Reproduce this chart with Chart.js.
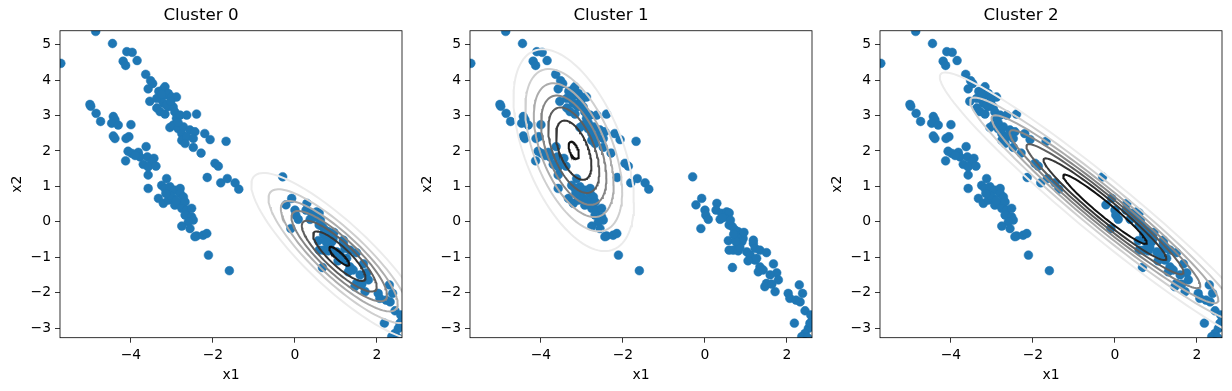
<!DOCTYPE html>
<html>
<head>
<meta charset="utf-8">
<script src="https://cdn.jsdelivr.net/npm/chart.js@4"></script>
<style>
  body { margin: 0; background: #fff; }
  .panel { position: absolute; top: 0; width: 410px; height: 391px; }
</style>
</head>
<body>
<div class="panel" style="left:0"><canvas id="c0" width="410" height="391"></canvas></div>
<div class="panel" style="left:410px"><canvas id="c1" width="410" height="391"></canvas></div>
<div class="panel" style="left:820px"><canvas id="c2" width="410" height="391"></canvas></div>
<script>
// scatter points (x1, x2), same in every panel
const upperBand = [
  [-5.71, 4.47], [-4.86, 5.37], [-4.45, 5.03], [-4.10, 4.80], [-3.97, 4.78], [-4.19, 4.53],
  [-4.13, 4.41], [-3.85, 4.55], [-3.64, 4.16], [-3.52, 3.98], [-3.47, 3.90], [-3.58, 3.75],
  [-3.32, 3.68], [-3.21, 3.74], [-3.15, 3.58], [-3.29, 3.49], [-3.17, 3.81], [-3.09, 3.62],
  [-3.01, 3.52], [-2.89, 3.52], [-3.54, 3.40], [-3.37, 3.21], [-3.29, 3.11], [-3.17, 3.04],
  [-3.09, 3.25], [-3.21, 3.35], [-2.97, 3.24], [-2.93, 3.10], [-3.05, 2.66], [-2.89, 2.92],
  [-2.80, 3.01], [-2.64, 3.01], [-2.40, 3.04], [-2.97, 2.73], [-2.85, 2.63], [-2.72, 2.68],
  [-2.56, 2.59], [-2.76, 2.49], [-2.76, 2.30], [-2.64, 2.40], [-2.44, 2.54], [-2.48, 2.35],
  [-2.20, 2.49], [-2.07, 2.32], [-2.68, 2.21], [-2.48, 2.10], [-2.29, 1.94], [-1.68, 2.27],
  [-1.95, 1.65], [-1.87, 1.57], [-2.14, 1.25], [-1.81, 1.10], [-1.65, 1.22], [-1.46, 1.10],
  [-1.37, 0.92], [-3.37, 3.48], [-3.13, 3.29], [-3.03, 3.40], [-2.85, 2.80], [-3.25, 3.60]
];
const lowerBand = [
  [-5.00, 3.31], [-4.98, 3.26], [-4.85, 3.06], [-4.74, 2.83], [-4.43, 2.97], [-4.39, 2.88],
  [-4.47, 2.78], [-4.31, 2.73], [-4.00, 2.74], [-4.43, 2.42], [-4.39, 2.35], [-4.12, 2.35],
  [-4.05, 2.40], [-3.63, 2.12], [-4.07, 1.99], [-3.98, 1.93], [-3.82, 1.96], [-3.78, 1.83],
  [-3.90, 1.87], [-4.13, 1.72], [-3.60, 1.83], [-3.44, 1.79], [-3.50, 1.69], [-3.70, 1.62],
  [-3.58, 1.55], [-3.39, 1.57], [-3.58, 1.32], [-3.58, 0.94], [-3.13, 1.22], [-3.25, 1.03],
  [-3.17, 0.94], [-3.05, 0.99], [-2.93, 0.89], [-2.80, 0.94], [-2.80, 0.80], [-3.33, 0.66],
  [-3.21, 0.52], [-3.09, 0.61], [-2.97, 0.66], [-2.93, 0.47], [-2.85, 0.52], [-2.72, 0.70],
  [-2.68, 0.56], [-2.76, 0.38], [-2.64, 0.33], [-2.52, 0.38], [-2.68, 0.19], [-2.52, 0.14],
  [-2.48, 0.05], [-2.60, 0.00], [-2.76, -0.12], [-2.56, -0.19], [-2.40, -0.40], [-2.44, -0.42],
  [-2.24, -0.38], [-2.15, -0.33], [-2.11, -0.94], [-1.60, -1.38], [-3.05, 0.75], [-2.90, 0.60],
  [-3.15, 0.80]
];
const rightBand = [
  [-0.30, 1.27], [-0.08, 0.66], [-0.22, 0.48], [0.00, 0.33], [0.02, 0.19], [0.08, 0.07],
  [-0.10, -0.19], [0.29, 0.52], [0.27, 0.33], [0.41, 0.24], [0.53, 0.28], [0.59, 0.25],
  [0.37, 0.07], [0.45, 0.12], [0.59, -0.09], [0.67, -0.14], [0.73, -0.23], [0.81, -0.28],
  [0.85, -0.38], [0.93, -0.47], [0.77, -0.42], [0.90, -0.56], [0.81, -0.66], [0.57, -0.53],
  [0.59, -0.80], [0.69, -0.80], [0.81, -0.82], [0.85, -0.72], [0.67, -1.29], [1.02, -0.85],
  [1.10, -0.94], [1.18, -0.61], [1.22, -0.75], [1.34, -0.80], [1.50, -0.87], [1.22, -1.08],
  [1.34, -1.27], [1.30, -1.41], [1.42, -1.36], [1.67, -1.19], [1.75, -1.44], [1.79, -1.64],
  [1.59, -1.50], [1.50, -1.74], [1.46, -1.83], [1.63, -1.76], [1.71, -1.97], [2.03, -2.02],
  [2.07, -2.16], [2.22, -2.21], [2.30, -1.78], [2.38, -2.02], [2.32, -2.26], [2.44, -2.51],
  [2.18, -2.86], [2.52, -3.01], [2.44, -3.15], [2.36, -3.24], [2.56, -2.86], [1.18, -0.52],
  [1.26, -1.03], [0.95, -0.30], [0.75, -0.55], [1.05, -1.10], [0.62, 0.05], [0.70, -0.35],
  [2.58, -2.63], [2.50, -3.27]
];

// gaussian component of each panel
const clusterTitles = ['Cluster 0', 'Cluster 1', 'Cluster 2'];
const clusterMeans = [[1.08, -0.97], [-3.20, 2.02], [-0.245, 0.355]];
const clusterCovs = [
  [[1.17, -1.10], [-1.10, 1.40]],
  [[0.551, -0.55], [-0.55, 2.07]],
  [[3.90, -3.61], [-3.61, 3.58]]
];
// contour levels as fraction of the peak density
const levelFracs = [
  [0.14, 0.28, 0.42, 0.56, 0.70, 0.84, 0.975],
  [0.141, 0.282, 0.423, 0.563, 0.704, 0.845, 0.986],
  [0.125, 0.25, 0.375, 0.5, 0.625, 0.75, 0.875]
];
const levelColors = ['#ebebeb', '#cfcfcf', '#acacac', '#858585', '#5e5e5e', '#363636', '#111111'];

const xTicks = [-4, -2, 0, 2];
const yTicks = [-3, -2, -1, 0, 1, 2, 3, 4, 5];
const xRange = [-5.73, 2.61];
const yRange = [-3.27, 5.39];

Chart.defaults.font.family = "'DejaVu Sans', sans-serif";
Chart.defaults.color = '#000';

const allPoints = upperBand.concat(lowerBand, rightBand).map(p => ({ x: p[0], y: p[1] }));

function ellipse(mean, cov, frac) {
  const r = Math.sqrt(-2 * Math.log(frac));
  const a = Math.sqrt(cov[0][0]);
  const b = cov[0][1] / a;
  const c = Math.sqrt(cov[1][1] - b * b);
  const pts = [];
  for (let i = 0; i <= 120; i++) {
    const t = i / 120 * Math.PI * 2;
    const u = Math.cos(t) * r, v = Math.sin(t) * r;
    pts.push({ x: mean[0] + a * u, y: mean[1] + b * u + c * v });
  }
  return pts;
}

const framePlugin = {
  id: 'frame',
  afterDraw(chart) {
    const { ctx, chartArea: a } = chart;
    ctx.save();
    ctx.strokeStyle = '#000';
    ctx.lineWidth = 0.8;
    ctx.strokeRect(a.left, a.top, a.right - a.left, a.bottom - a.top);
    ctx.restore();
  }
};

const fmt = v => String(v).replace('-', '\u2212');

for (let k = 0; k < 3; k++) {
  const contours = levelFracs[k].map((f, i) => ({
    type: 'line',
    data: ellipse(clusterMeans[k], clusterCovs[k], f),
    borderColor: levelColors[i],
    borderWidth: 2,
    pointRadius: 0,
    fill: false,
    tension: 0,
    clip: 0,
    order: 0
  }));
  new Chart(document.getElementById('c' + k), {
    type: 'scatter',
    data: {
      datasets: [{
        data: allPoints,
        backgroundColor: '#1f77b4',
        borderColor: '#1f77b4',
        borderWidth: 0.5,
        pointRadius: 4.4,
        clip: 0,
        order: 1
      }].concat(contours)
    },
    options: {
      responsive: false,
      animation: false,
      events: [],
      layout: { padding: { left: 0, right: 8, top: 0, bottom: 0 } },
      plugins: {
        legend: { display: false },
        tooltip: { enabled: false },
        title: {
          display: true,
          text: clusterTitles[k],
          font: { size: 16.7, weight: 'normal' },
          color: '#000',
          padding: { top: 6, bottom: 4.7 }
        }
      },
      scales: {
        x: {
          type: 'linear',
          min: xRange[0],
          max: xRange[1],
          afterBuildTicks: s => { s.ticks = xTicks.map(v => ({ value: v })); },
          afterFit: s => { s.height = 53.3; },
          border: { display: false },
          grid: { drawOnChartArea: false, tickLength: 5, tickColor: '#000', tickWidth: 0.8 },
          ticks: { font: { size: 13.9 }, padding: 4, maxRotation: 0, callback: fmt },
          title: { display: true, text: 'x1', font: { size: 13.9 }, padding: { top: 0, bottom: 7.7 } }
        },
        y: {
          type: 'linear',
          min: yRange[0],
          max: yRange[1],
          afterBuildTicks: s => { s.ticks = yTicks.map(v => ({ value: v })); },
          afterFit: s => { s.width = 60; },
          border: { display: false },
          grid: { drawOnChartArea: false, tickLength: 5, tickColor: '#000', tickWidth: 0.8 },
          ticks: { font: { size: 13.9 }, padding: 4, callback: fmt },
          title: { display: true, text: 'x2', font: { size: 13.9 }, padding: { top: 9, bottom: 0 } }
        }
      }
    },
    plugins: [framePlugin]
  });
}
</script>
</body>
</html>
